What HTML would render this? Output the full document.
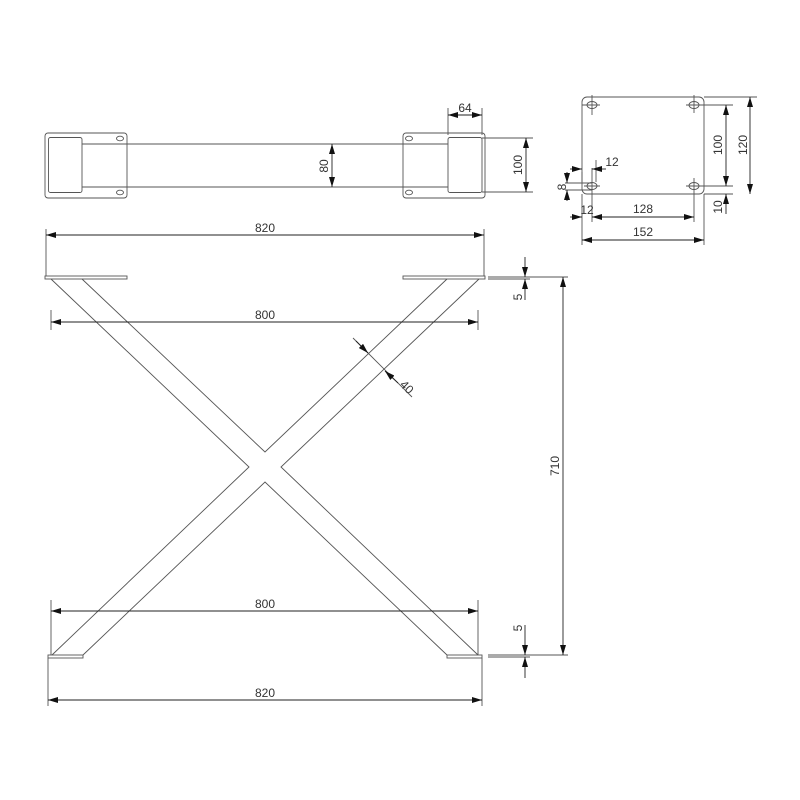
<!DOCTYPE html>
<html><head><meta charset="utf-8"><style>
html,body{margin:0;padding:0;background:#fff;}
svg{display:block;}
text{font-family:"Liberation Sans",sans-serif;font-size:12px;fill:#333;}
</style></head><body>
<svg width="800" height="800" viewBox="0 0 800 800" xmlns="http://www.w3.org/2000/svg">
<defs>
<marker id="a" viewBox="0 0 10 6" refX="10" refY="3" markerWidth="10" markerHeight="6" markerUnits="userSpaceOnUse" orient="auto-start-reverse"><path d="M0,0 L10,3 L0,6 z" fill="#111"/></marker>
</defs>
<g stroke="#555" stroke-width="0.9" fill="none">
<!-- TOP VIEW -->
<rect x="45" y="133" width="82" height="65" rx="3"/>
<rect x="48.5" y="137.5" width="33.5" height="55" rx="2" fill="#fff"/>
<ellipse cx="120" cy="138.5" rx="3.5" ry="2.3"/><ellipse cx="120" cy="192.5" rx="3.5" ry="2.3"/>
<path d="M82,144H448M82,187H448"/>
<rect x="403" y="133" width="82" height="65" rx="3"/>
<ellipse cx="409" cy="138.5" rx="3.5" ry="2.3"/><ellipse cx="409" cy="192.5" rx="3.5" ry="2.3"/>
<rect x="448" y="137.5" width="34" height="55" rx="2" fill="#fff"/>
<path d="M448,135V108M482,135V108"/>
<path d="M482,138H533M482,192H533"/>
</g>
<g stroke="#222" stroke-width="0.9" fill="none">
<path d="M448,115H482" marker-start="url(#a)" marker-end="url(#a)"/>
<path d="M332,144V187" marker-start="url(#a)" marker-end="url(#a)"/>
<path d="M526,138V192" marker-start="url(#a)" marker-end="url(#a)"/>
</g>
<text x="465" y="112" text-anchor="middle">64</text>
<text transform="translate(328,166) rotate(-90)" text-anchor="middle">80</text>
<text transform="translate(522,165) rotate(-90)" text-anchor="middle">100</text>

<!-- PLATE DETAIL -->
<g stroke="#555" stroke-width="0.9" fill="none">
<rect x="582" y="97" width="122" height="97" rx="5"/>
<ellipse cx="592" cy="105" rx="5" ry="3.5"/><ellipse cx="694" cy="105" rx="5" ry="3.5"/>
<ellipse cx="592" cy="186" rx="5" ry="3.5"/><ellipse cx="694" cy="186" rx="5" ry="3.5"/>
<path d="M582,105H600M592,95V115M686,105H700M694,95V113M584,186H600M686,186H733M694,178V222M592,168V222"/>
<path d="M704,97H757M694,105H733M704,194H733"/>
<path d="M582,194V245M704,194V245"/>
<path d="M565,183H592M565,190H592M582,172V182M596,160V182"/>
</g>
<g stroke="#222" stroke-width="0.9" fill="none">
<path d="M750,97V194" marker-start="url(#a)" marker-end="url(#a)"/>
<path d="M726,105V186" marker-start="url(#a)" marker-end="url(#a)"/>
<path d="M726,214V194" marker-end="url(#a)"/>
<path d="M582,240H704" marker-start="url(#a)" marker-end="url(#a)"/>
<path d="M592,217H694" marker-start="url(#a)" marker-end="url(#a)"/>
<path d="M570,217H582" marker-end="url(#a)"/>
<path d="M570,169H582" marker-end="url(#a)"/>
<path d="M606,169H592" marker-end="url(#a)"/>
<path d="M567,172V183" marker-end="url(#a)"/>
<path d="M567,201V190" marker-end="url(#a)"/>
</g>
<text transform="translate(747,145) rotate(-90)" text-anchor="middle">120</text>
<text transform="translate(722,145) rotate(-90)" text-anchor="middle">100</text>
<text transform="translate(722,207) rotate(-90)" text-anchor="middle">10</text>
<text x="643" y="240" text-anchor="middle" dy="-4">152</text>
<text x="643" y="213" text-anchor="middle">128</text>
<text x="587" y="214" text-anchor="middle">12</text>
<text x="612" y="166" text-anchor="middle">12</text>
<text transform="translate(566,187) rotate(-90)" text-anchor="middle">8</text>

<!-- FRONT VIEW -->
<g stroke="#555" stroke-width="0.9" fill="none">
<rect x="45" y="276" width="82" height="3"/>
<rect x="403" y="276" width="82" height="3"/>
<rect x="48" y="655" width="35" height="3"/>
<rect x="447" y="655" width="35" height="3"/>
<path d="M82,279L265,452L447,279M479,279L281,467L478,655M447,655L265,482L83,655M52,655L249,467L51,279"/>
<path d="M46,229V276M484,229V276M51,310V330M478,310V330M51,600V655M478,600V655M48,658V706M482,658V706"/>
<path d="M488,277H568M488,279H530M488,655H568M488,657H530"/>
<path d="M353,338L412,397"/>
</g>
<g stroke="#222" stroke-width="0.9" fill="none">
<path d="M46,235H484" marker-start="url(#a)" marker-end="url(#a)"/>
<path d="M51,322H478" marker-start="url(#a)" marker-end="url(#a)"/>
<path d="M51,611H478" marker-start="url(#a)" marker-end="url(#a)"/>
<path d="M48,700H482" marker-start="url(#a)" marker-end="url(#a)"/>
<path d="M563,277V655" marker-start="url(#a)" marker-end="url(#a)"/>
<path d="M525,257V277" marker-end="url(#a)"/>
<path d="M525,300V279" marker-end="url(#a)"/>
<path d="M525,625V655" marker-end="url(#a)"/>
<path d="M525,678V657" marker-end="url(#a)"/>
<path d="M356,341L368,353" marker-end="url(#a)"/>
<path d="M398,383L385,371" marker-end="url(#a)"/>
</g>
<text x="265" y="232" text-anchor="middle">820</text>
<text x="265" y="319" text-anchor="middle">800</text>
<text x="265" y="608" text-anchor="middle">800</text>
<text x="265" y="697" text-anchor="middle">820</text>
<text transform="translate(559,466) rotate(-90)" text-anchor="middle">710</text>
<text transform="translate(522,297) rotate(-90)" text-anchor="middle">5</text>
<text transform="translate(522,628) rotate(-90)" text-anchor="middle">5</text>
<text transform="translate(404,390) rotate(45)" text-anchor="middle">40</text>
</svg>
</body></html>
